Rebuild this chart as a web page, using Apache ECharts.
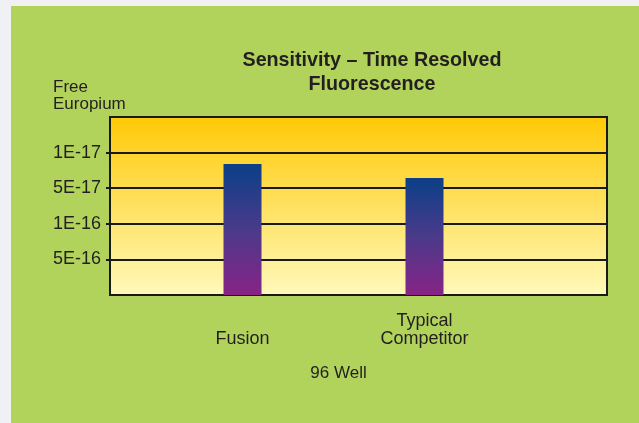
<!DOCTYPE html>
<html>
<head>
<meta charset="utf-8">
<script src="https://cdn.jsdelivr.net/npm/echarts@6/dist/echarts.min.js"></script>
<style>
  html, body { margin: 0; padding: 0; width: 639px; height: 423px; overflow: hidden; background: #f0f1f4; }
  #chart { position: absolute; left: 11px; top: 6px; width: 628px; height: 417px; background: #b1d35b; }
</style>
</head>
<body>
<div id="chart"></div>
<script>
// ---- data ----
const categories = ['Fusion', 'Typical\nCompetitor'];
const barValues = [3.68, 3.29];            // read against the tick positions (1..4)
const tickValues = [1, 2, 3, 4];
const tickLabels = ['5E-16', '1E-16', '5E-17', '1E-17'];
const titleText = 'Sensitivity \u2013 Time Resolved\nFluorescence';
const yName = 'Free\nEuropium';
const xName = '96 Well';

const FONT = '"Liberation Sans", Arial, sans-serif';
const TXT = '#231f20';

const chart = echarts.init(document.getElementById('chart'), null, { renderer: 'canvas' });
chart.setOption({
  animation: false,
  title: [
    {
      text: titleText,
      left: 356, top: 38, textAlign: 'center',
      textStyle: { fontFamily: FONT, fontSize: 19.7, fontWeight: 'bold', color: TXT, lineHeight: 24 }
    },
    {
      text: yName,
      left: 37, top: 68,
      textStyle: { fontFamily: FONT, fontSize: 17, fontWeight: 'normal', color: TXT, lineHeight: 17 }
    }
  ],
  grid: [
    {
      left: 99, top: 111, width: 497, height: 178,
      show: true,
      borderColor: '#1a1a1a', borderWidth: 2,
      backgroundColor: new echarts.graphic.LinearGradient(0, 0, 0, 1, [
        { offset: 0, color: '#ffc905' },
        { offset: 1, color: '#fff9bb' }
      ])
    },
    { left: 140.5, top: 111, width: 364, height: 178 }
  ],
  xAxis: [
    { gridIndex: 0, type: 'value', min: 0, max: 1, show: false },
    {
      gridIndex: 1, type: 'category', data: categories,
      axisLine: { show: false }, axisTick: { show: false },
      axisLabel: {
        fontFamily: FONT, fontSize: 18, color: TXT, lineHeight: 18,
        verticalAlign: 'bottom', margin: 53, interval: 0
      },
      name: xName, nameLocation: 'middle', nameGap: 70,
      nameTextStyle: { fontFamily: FONT, fontSize: 17, color: TXT, padding: [0, 0, 0, 10] }
    }
  ],
  yAxis: [
    {
      gridIndex: 0, type: 'value', min: 0, max: 5, interval: 1,
      axisLine: { show: false },
      axisTick: { show: true, length: 4, customValues: tickValues, lineStyle: { color: '#1a1a1a', width: 2 } },
      axisLabel: {
        customValues: tickValues,
        margin: 9, fontFamily: FONT, fontSize: 18, color: TXT,
        formatter: v => tickLabels[tickValues.indexOf(v)] || ''
      },
      splitLine: { show: true, lineStyle: { color: '#1a1a1a', width: 2 } }
    },
    { gridIndex: 1, type: 'value', min: 0, max: 5, show: false, splitLine: { show: false } }
  ],
  series: [
    {
      type: 'bar', xAxisIndex: 1, yAxisIndex: 1,
      data: barValues, barWidth: 38,
      itemStyle: {
        color: new echarts.graphic.LinearGradient(0, 0, 0, 1, [
          { offset: 0, color: '#0b3f87' },
          { offset: 0.5, color: '#4a3a8a' },
          { offset: 1, color: '#872386' }
        ])
      }
    }
  ]
});
</script>
</body>
</html>
